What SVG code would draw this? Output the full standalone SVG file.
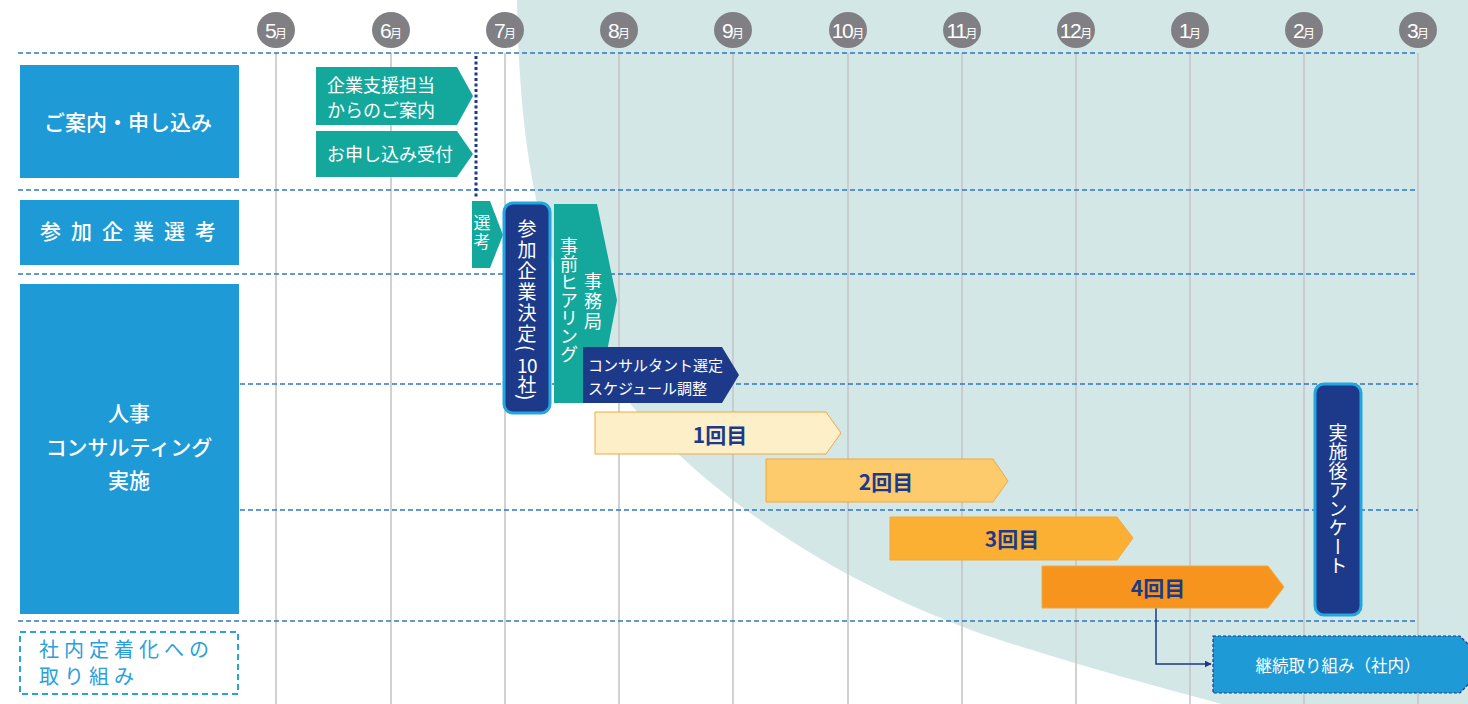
<svg xmlns="http://www.w3.org/2000/svg" width="1468" height="704" viewBox="0 0 1468 704">
<defs>
<style>
.jp{font-family:"Noto Sans CJK JP","Noto Sans",sans-serif;}
.grid{stroke:#c6c6c6;stroke-width:1.6;fill:none;}
.dash{stroke:#2f78c0;stroke-width:1.3;stroke-dasharray:5 3;fill:none;}
.hdr{fill:#1e9ad6;}
.hdrt{fill:#fff;font-size:21px;text-anchor:middle;font-weight:500;}
.teal{fill:#14a89c;}
.navy{fill:#1d3a8a;}
.wt{fill:#fff;}
.mon{fill:#808084;}
.mt{fill:#fff;font-family:"Liberation Sans",Arial,sans-serif;font-size:21px;letter-spacing:-1.5px;}
.mk{font-family:"Noto Sans CJK JP",sans-serif;font-size:12px;letter-spacing:0;}
.vt{writing-mode:vertical-rl;text-orientation:upright;}
.vm{writing-mode:vertical-rl;text-orientation:mixed;}
.ord{fill:#1d3a8a;font-size:21px;font-weight:bold;text-anchor:middle;}
.obar{stroke:#f2a83f;stroke-width:1;}
</style>
<marker id="arr" viewBox="0 0 10 10" refX="9" refY="5" markerWidth="7" markerHeight="7" orient="auto" markerUnits="userSpaceOnUse">
<path d="M0,0 L10,5 L0,10 Z" fill="#1d3a8a"/>
</marker>
</defs>
<rect width="1468" height="704" fill="#fff"/>
<path d="M517,0 C520,160 540,300 640,415 C720,505 850,590 1000,640 C1100,672 1170,690 1222,704 L1468,704 L1468,0 Z" fill="#d3e7e6"/>

<g id="grid">
<line class="grid" x1="276" y1="53" x2="276" y2="704"/>
<line class="grid" x1="391" y1="53" x2="391" y2="704"/>
<line class="grid" x1="505" y1="53" x2="505" y2="704"/>
<line class="grid" x1="619" y1="53" x2="619" y2="704"/>
<line class="grid" x1="733" y1="53" x2="733" y2="704"/>
<line class="grid" x1="848" y1="53" x2="848" y2="704"/>
<line class="grid" x1="962" y1="53" x2="962" y2="704"/>
<line class="grid" x1="1076" y1="53" x2="1076" y2="704"/>
<line class="grid" x1="1190" y1="53" x2="1190" y2="704"/>
<line class="grid" x1="1304" y1="53" x2="1304" y2="704"/>
<line class="grid" x1="1418" y1="53" x2="1418" y2="704"/>
<line class="dash" x1="18" y1="53" x2="1418" y2="53"/>
<line class="dash" x1="18" y1="190" x2="1418" y2="190"/>
<line class="dash" x1="18" y1="274" x2="1418" y2="274"/>
<line class="dash" x1="240" y1="384" x2="1418" y2="384"/>
<line class="dash" x1="240" y1="510" x2="1418" y2="510"/>
<line class="dash" x1="18" y1="621" x2="1418" y2="621"/>
</g>

<g id="months">
<g id="m5"><ellipse class="mon" cx="276" cy="30" rx="19" ry="18"/><text class="mt" x="276" y="38" text-anchor="middle">5<tspan class="mk">月</tspan></text></g>
<g id="m6"><ellipse class="mon" cx="391" cy="30" rx="19" ry="18"/><text class="mt" x="391" y="38" text-anchor="middle">6<tspan class="mk">月</tspan></text></g>
<g id="m7"><ellipse class="mon" cx="505" cy="30" rx="19" ry="18"/><text class="mt" x="505" y="38" text-anchor="middle">7<tspan class="mk">月</tspan></text></g>
<g id="m8"><ellipse class="mon" cx="619" cy="30" rx="19" ry="18"/><text class="mt" x="619" y="38" text-anchor="middle">8<tspan class="mk">月</tspan></text></g>
<g id="m9"><ellipse class="mon" cx="733" cy="30" rx="19" ry="18"/><text class="mt" x="733" y="38" text-anchor="middle">9<tspan class="mk">月</tspan></text></g>
<g id="m10"><ellipse class="mon" cx="848" cy="30" rx="19" ry="18"/><text class="mt" x="848" y="38" text-anchor="middle">10<tspan class="mk">月</tspan></text></g>
<g id="m11"><ellipse class="mon" cx="962" cy="30" rx="19" ry="18"/><text class="mt" x="962" y="38" text-anchor="middle">11<tspan class="mk">月</tspan></text></g>
<g id="m12"><ellipse class="mon" cx="1076" cy="30" rx="19" ry="18"/><text class="mt" x="1076" y="38" text-anchor="middle">12<tspan class="mk">月</tspan></text></g>
<g id="m1"><ellipse class="mon" cx="1190" cy="30" rx="19" ry="18"/><text class="mt" x="1190" y="38" text-anchor="middle">1<tspan class="mk">月</tspan></text></g>
<g id="m2"><ellipse class="mon" cx="1304" cy="30" rx="19" ry="18"/><text class="mt" x="1304" y="38" text-anchor="middle">2<tspan class="mk">月</tspan></text></g>
<g id="m3"><ellipse class="mon" cx="1418" cy="30" rx="19" ry="18"/><text class="mt" x="1418" y="38" text-anchor="middle">3<tspan class="mk">月</tspan></text></g>
</g>

<g id="h1"><rect class="hdr" x="20" y="65" width="219" height="113"/><text class="jp hdrt" x="128" y="130">ご案内・申し込み</text></g>
<g id="h2"><rect class="hdr" x="20" y="200" width="219" height="65"/><text class="jp hdrt" x="133" y="239" letter-spacing="10">参加企業選考</text></g>
<g id="h3"><rect class="hdr" x="20" y="284" width="219" height="330"/><text class="jp hdrt"><tspan x="129" y="421">人事</tspan><tspan x="129" y="455">コンサルティング</tspan><tspan x="129" y="488">実施</tspan></text></g>
<g id="h4"><rect x="20" y="632" width="218" height="62" fill="#fff" stroke="#2aa3dc" stroke-width="2" stroke-dasharray="6 4"/><text class="jp" font-size="20" fill="#2aa0da" letter-spacing="5"><tspan x="39" y="657">社内定着化への</tspan><tspan x="39" y="684">取り組み</tspan></text></g>

<g id="connectors">
<line x1="476" y1="56" x2="476" y2="199" stroke="#1d3a8a" stroke-width="3" stroke-dasharray="3 2.5"/>
<polyline points="1156,608 1156,664 1211,664" fill="none" stroke="#1d3a8a" stroke-width="1.5" marker-end="url(#arr)"/>
</g>

<g id="n-annai"><polygon class="teal" points="316,67 457,67 473,96 457,125 316,125"/><text class="jp wt" font-size="18"><tspan x="327" y="92">企業支援担当</tspan><tspan x="327" y="117">からのご案内</tspan></text></g>
<g id="n-uketsuke"><polygon class="teal" points="316,131 457,131 473,154 457,177 316,177"/><text class="jp wt" font-size="18" x="327" y="161">お申し込み受付</text></g>
<g id="n-senko"><polygon class="teal" points="472,201 490,201 503,235 490,268 472,268"/><text class="jp wt vt" font-size="17" x="482" y="214" letter-spacing="2">選考</text></g>
<g id="n-kettei"><rect x="504" y="203" width="46" height="210" rx="9" class="navy" stroke="#22a6e0" stroke-width="3"/>
<text class="jp wt vm" font-size="19" x="527" y="219" letter-spacing="2">参加企業決定(</text>
<text class="jp wt" font-size="19" x="527" y="373" text-anchor="middle" letter-spacing="-0.5">10</text>
<text class="jp wt vm" font-size="19" x="527" y="375">社)</text></g>
<g id="n-hearing"><polygon class="teal" points="554,204 597,204 617,300 597,403 554,403"/><text class="jp wt vt" font-size="18" x="593" y="272" letter-spacing="2">事務局</text><text class="jp wt vt" font-size="18" x="569" y="237">事前ヒアリング</text></g>
<g id="n-consul"><polygon class="navy" points="583,347 722,347 739,375 722,403 583,403"/><text class="jp wt" font-size="15"><tspan x="588" y="371">コンサルタント選定</tspan><tspan x="588" y="394">スケジュール調整</tspan></text></g>
<g id="n-r1"><polygon class="obar" fill="#fdefc8" points="595,412 826,412 841,433 826,454 595,454"/><text class="jp ord" x="720" y="443">1回目</text></g>
<g id="n-r2"><polygon class="obar" fill="#fdca6c" points="766,459 993,459 1008,481 993,502 766,502"/><text class="jp ord" x="886" y="490">2回目</text></g>
<g id="n-r3"><polygon class="obar" fill="#fbb034" points="890,517 1117,517 1133,538 1117,560 890,560"/><text class="jp ord" x="1012" y="547">3回目</text></g>
<g id="n-r4"><polygon class="obar" fill="#f7941e" points="1042,566 1268,566 1284,587 1268,608 1042,608"/><text class="jp ord" x="1158" y="596">4回目</text></g>
<g id="n-survey"><rect x="1315" y="384" width="46" height="231" rx="9" class="navy" stroke="#22a6e0" stroke-width="3"/><text class="jp wt vt" font-size="19" x="1338" y="423">実施後アンケート</text></g>
<g id="n-keizoku"><polygon fill="#1e9ad6" stroke="#1d3a8a" stroke-width="1.2" stroke-dasharray="3 2" points="1213,636 1460,636 1488,664 1460,693 1213,693"/><text class="jp wt" font-size="16.5" x="1338" y="672" text-anchor="middle">継続取り組み（社内）</text></g>
</svg>
